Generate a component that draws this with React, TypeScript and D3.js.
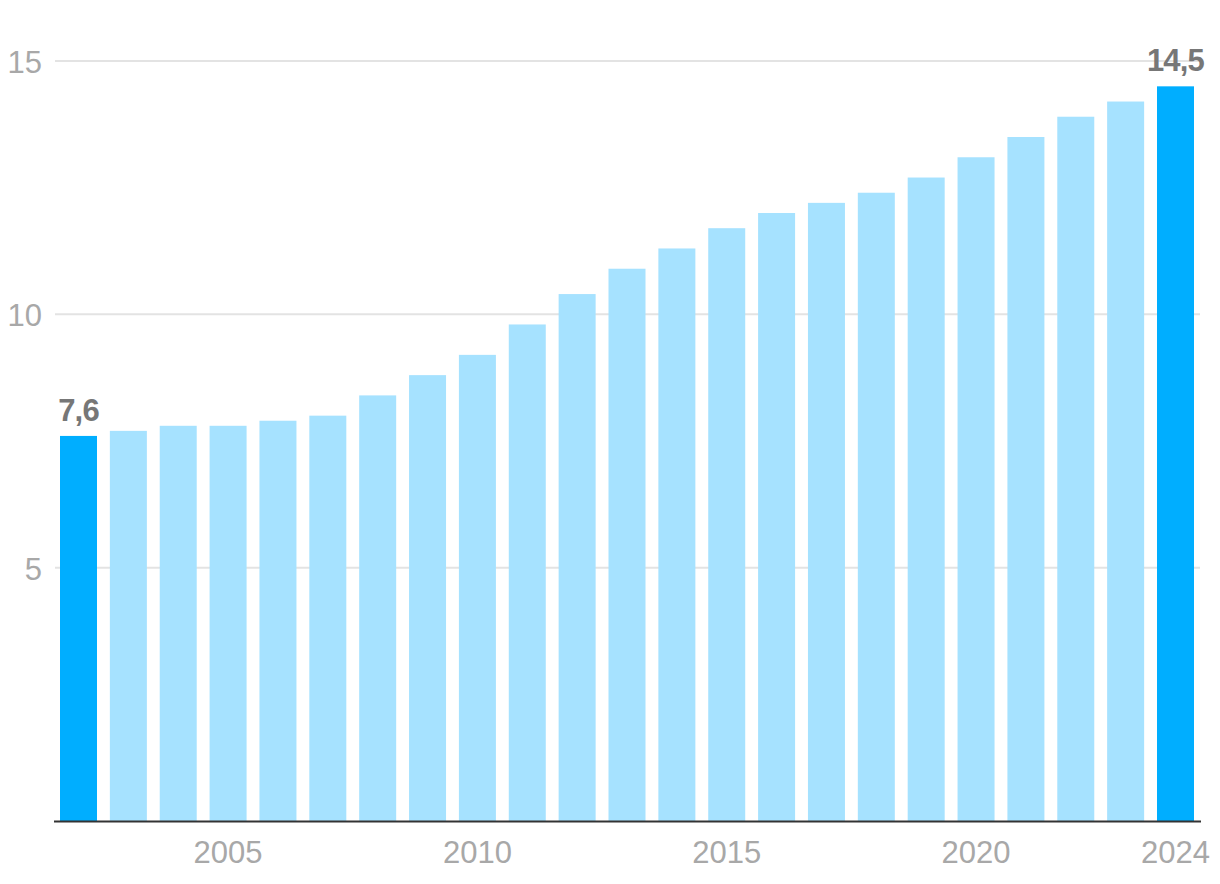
import React from "react";
import * as d3 from "d3";

const years: number[] = d3.range(2002, 2025);
const values: number[] = [
  7.6, 7.7, 7.8, 7.8, 7.9, 8.0, 8.4, 8.8, 9.2, 9.8, 10.4, 10.9, 11.3, 11.7,
  12.0, 12.2, 12.4, 12.7, 13.1, 13.5, 13.9, 14.2, 14.5,
];
const yTicks: number[] = [5, 10, 15];
const xTicks: number[] = [2005, 2010, 2015, 2020, 2024];
const labelled: number[] = [2002, 2024];

const W = 1220;
const H = 884;

export default function App() {
  const x = d3
    .scaleBand<number>()
    .domain(years)
    .range([60, 1194])
    .paddingInner(0.258)
    .paddingOuter(0);
  const y = d3.scaleLinear().domain([0, 15]).range([821, 61]);
  const font = "'Liberation Sans', Arial, sans-serif";

  return (
    <svg
      width={W}
      height={H}
      style={{ position: "absolute", left: 0, top: 0, background: "#fff" }}
    >
      {yTicks.map((t) => (
        <g key={t}>
          <line x1={55} x2={1200} y1={y(t)} y2={y(t)} stroke="#e3e3e3" strokeWidth={2} />
          <text
            x={42}
            y={y(t) + 12}
            textAnchor="end"
            fontFamily={font}
            fontSize={31}
            fill="#a8a8a8"
          >
            {t}
          </text>
        </g>
      ))}
      {years.map((yr, i) => (
        <rect
          key={yr}
          x={x(yr)}
          y={y(values[i])}
          width={x.bandwidth()}
          height={y(0) - y(values[i])}
          fill={labelled.includes(yr) ? "#00aeff" : "#a6e2ff"}
        />
      ))}
      {years.map((yr, i) =>
        labelled.includes(yr) ? (
          <text
            key={"l" + yr}
            x={(x(yr) as number) + x.bandwidth() / 2}
            y={y(values[i]) - 15}
            textAnchor="middle"
            fontFamily={font}
            fontWeight="bold"
            fontSize={31}
            letterSpacing={-0.8}
            fill="#777777"
          >
            {values[i].toFixed(1).replace(".", ",")}
          </text>
        ) : null
      )}
      <line x1={54} x2={1201} y1={821.5} y2={821.5} stroke="#333" strokeWidth={2} />
      {xTicks.map((t) => (
        <text
          key={t}
          x={(x(t) as number) + x.bandwidth() / 2}
          y={863}
          textAnchor="middle"
          fontFamily={font}
          fontSize={31}
          fill="#a8a8a8"
        >
          {t}
        </text>
      ))}
    </svg>
  );
}
